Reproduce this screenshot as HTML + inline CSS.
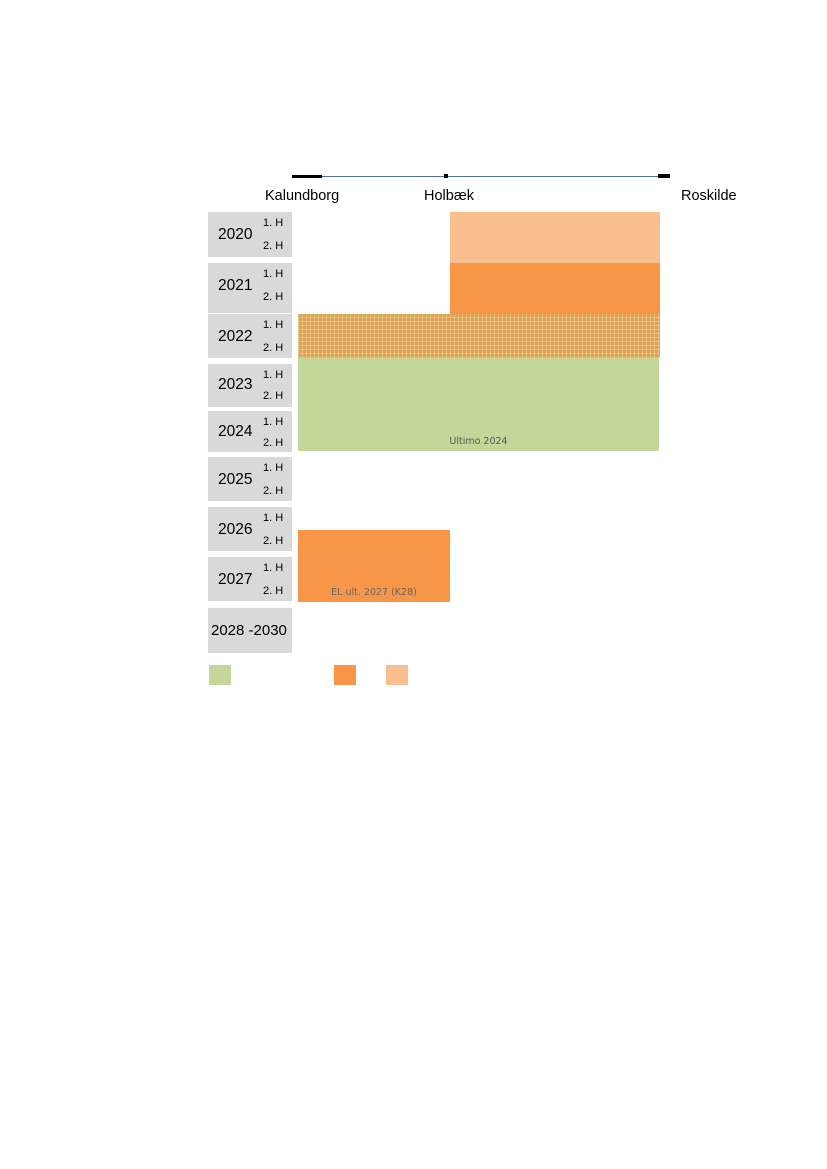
<!DOCTYPE html><html><head><style>
body{margin:0;width:827px;height:1169px;background:#fff;position:relative;font-family:"Liberation Sans",sans-serif;}
div{position:absolute;}
.y{left:208px;width:84px;background:#d9d9d9;}
.yt{left:218px;font-size:15.5px;color:#000;}
.h{left:263px;font-size:11px;color:#000;}
.lab{font-size:14.5px;color:#000;top:188px;}
</style></head><body>
<div style="left:292px;top:176px;width:378px;height:1px;background:#4f6fa8"></div>
<div style="left:292px;top:175px;width:30px;height:3px;background:#000"></div>
<div style="left:444px;top:174px;width:4px;height:4px;background:#000"></div>
<div style="left:658px;top:174px;width:12px;height:4px;background:#000"></div>
<div class="lab" style="left:265px">Kalundborg</div>
<div class="lab" style="left:424px">Holbæk</div>
<div class="lab" style="left:681px">Roskilde</div>

<div class="y" style="top:212px;height:45px"></div><div class="yt" style="top:226px">2020</div><div class="h" style="top:217px">1. H</div><div class="h" style="top:240px">2. H</div>
<div class="y" style="top:263px;height:50px"></div><div class="yt" style="top:277px">2021</div><div class="h" style="top:268px">1. H</div><div class="h" style="top:291px">2. H</div>
<div class="y" style="top:314px;height:44px"></div><div class="yt" style="top:328px">2022</div><div class="h" style="top:319px">1. H</div><div class="h" style="top:342px">2. H</div>
<div class="y" style="top:364px;height:43px"></div><div class="yt" style="top:376px">2023</div><div class="h" style="top:369px">1. H</div><div class="h" style="top:390px">2. H</div>
<div class="y" style="top:411px;height:41px"></div><div class="yt" style="top:423px">2024</div><div class="h" style="top:416px">1. H</div><div class="h" style="top:437px">2. H</div>
<div class="y" style="top:457px;height:44px"></div><div class="yt" style="top:471px">2025</div><div class="h" style="top:462px">1. H</div><div class="h" style="top:485px">2. H</div>
<div class="y" style="top:507px;height:44px"></div><div class="yt" style="top:521px">2026</div><div class="h" style="top:512px">1. H</div><div class="h" style="top:535px">2. H</div>
<div class="y" style="top:557px;height:44px"></div><div class="yt" style="top:571px">2027</div><div class="h" style="top:562px">1. H</div><div class="h" style="top:585px">2. H</div>
<div class="y" style="top:608px;height:45px"></div><div class="yt" style="top:622px;left:211px;font-size:15px">2028 -2030</div>

<div style="left:450px;top:212px;width:210px;height:51px;background:#f9bf8f"></div>
<div style="left:450px;top:263px;width:210px;height:51px;background:#f79646"></div>
<div style="left:298px;top:314px;width:362px;height:44px;background-color:#f79646;background-image:repeating-linear-gradient(90deg,rgba(196,215,155,.8) 0 1px,transparent 1px 4px),repeating-linear-gradient(0deg,rgba(196,215,155,.8) 0 1px,transparent 1px 4px)"></div>
<div style="left:298px;top:358px;width:361px;height:93px;background:#c4d79b"></div>
<div style="left:298px;top:436px;width:361px;text-align:center;font-size:9.5px;color:#555;font-family:'DejaVu Sans',sans-serif">Ultimo 2024</div>
<div style="left:298px;top:530px;width:152px;height:72px;background:#f79646"></div>
<div style="left:298px;top:587px;width:152px;text-align:center;font-size:9.5px;color:#666;font-family:'DejaVu Sans',sans-serif">EL ult. 2027 (K28)</div>

<div style="left:209px;top:665px;width:22px;height:20px;background:#c4d79b"></div>
<div style="left:334px;top:665px;width:22px;height:20px;background:#f79646"></div>
<div style="left:386px;top:665px;width:22px;height:20px;background:#f9bf8f"></div>
</body></html>
